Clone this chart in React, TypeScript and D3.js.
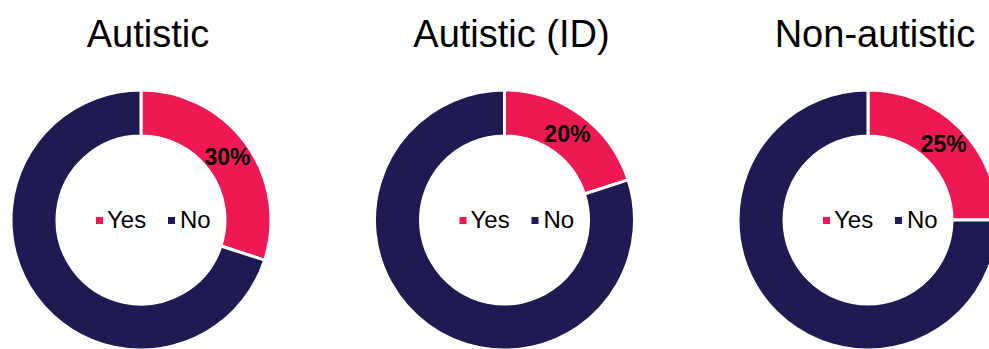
import React from "react";
import * as d3 from "d3";

const groups = ["Autistic", "Autistic (ID)", "Non-autistic"];
const yesValues = [30, 20, 25];
const noValues = [70, 80, 75];
const categories = ["Yes", "No"];
const colors = ["#EE1852", "#1F1A52"];

const W = 989;
const H = 349;

export default function App() {
  const x = d3.scalePoint<string>().domain(groups).range([141, 868]);
  const cy = 220;
  const outerR = 130;
  const innerR = 84;
  const pie = d3.pie<number>().sort(null).value((d) => d);
  const arc = d3.arc<d3.PieArcDatum<number>>().innerRadius(innerR).outerRadius(outerR);
  const fmt = (v: number, t: number) => `${Math.round((v / t) * 100)}%`;

  return (
    <svg
      width={W}
      height={H}
      style={{ position: "absolute", left: 0, top: 0, fontFamily: "'Liberation Sans', Arial, sans-serif" }}
    >
      <rect width={W} height={H} fill="#ffffff" />
      {groups.map((g, i) => {
        const cx = x(g)!;
        const vals = [yesValues[i], noValues[i]];
        const total = vals[0] + vals[1];
        const arcs = pie(vals);
        return (
          <g key={g}>
            <text x={cx + 7} y={47} textAnchor="middle" fontSize={38} fill="#000">
              {g}
            </text>
            <g transform={`translate(${cx},${cy})`}>
              {arcs.map((a, j) => (
                <path key={j} d={arc(a)!} fill={colors[j]} stroke="#ffffff" strokeWidth={3} />
              ))}
              {(() => {
                const [lx, ly] = arc.centroid(arcs[0]);
                return (
                  <text x={lx} y={ly} dy="0.35em" textAnchor="middle" fontSize={23} fontWeight="bold" fill="#000">
                    {fmt(vals[0], total)}
                  </text>
                );
              })()}
              <g>
                <rect x={-45} y={-3} width={7} height={7} fill={colors[0]} />
                <text x={-34} y={8} fontSize={24} fill="#000">
                  {categories[0]}
                </text>
                <rect x={27} y={-3} width={7} height={7} fill={colors[1]} />
                <text x={39} y={8} fontSize={24} fill="#000">
                  {categories[1]}
                </text>
              </g>
            </g>
          </g>
        );
      })}
    </svg>
  );
}
